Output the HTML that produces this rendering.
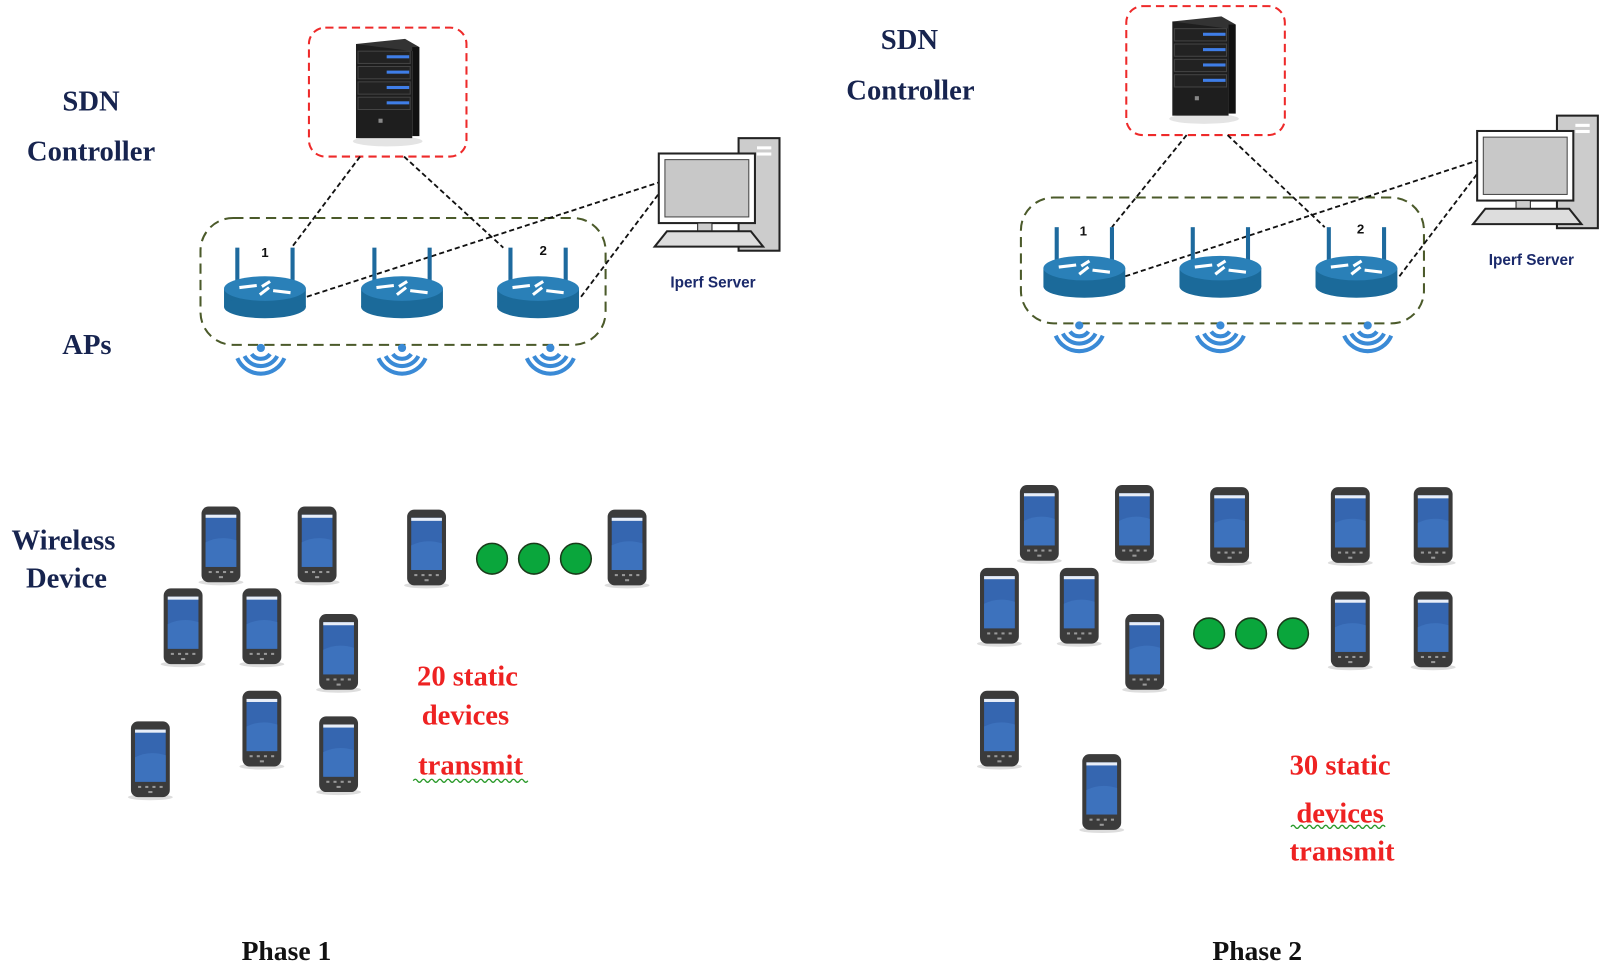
<!DOCTYPE html>
<html><head><meta charset="utf-8"><style>
html,body{margin:0;padding:0;background:#fff;width:1604px;height:966px;overflow:hidden}
svg{display:block}
.t{font-family:"Liberation Serif",serif;font-weight:bold;fill:#17244f;font-size:28px;text-anchor:middle}
.r{font-family:"Liberation Serif",serif;font-weight:bold;fill:#ee2222;font-size:28px;text-anchor:middle}
.p{font-family:"Liberation Serif",serif;font-weight:bold;fill:#111;font-size:27px;text-anchor:middle}
.s{font-family:"Liberation Sans",sans-serif;font-weight:bold;fill:#1b2a6b;font-size:15px;text-anchor:middle}
.n{font-family:"Liberation Sans",sans-serif;font-weight:bold;fill:#111;font-size:13px;text-anchor:middle}
</style></head><body>
<svg width="1604" height="966" viewBox="0 0 1568 944" preserveAspectRatio="none" xmlns="http://www.w3.org/2000/svg">
<defs>
<g id="ph">
<ellipse cx="19" cy="74" rx="22" ry="3" fill="#ddd"/>
<rect x="0" y="0" width="38" height="74" rx="7" fill="#3b3b3b"/>
<rect x="4" y="8" width="30" height="51" fill="#3566b0"/>
<rect x="4" y="8" width="30" height="3" fill="#e8eef8"/>
<path d="M4 35 Q18 28 34 33 L34 59 L4 59Z" fill="#3d72bd"/>
<g fill="#999"><rect x="7" y="63" width="3" height="2"/><rect x="14" y="63" width="3" height="2"/><rect x="21" y="63" width="3" height="2"/><rect x="28" y="63" width="3" height="2"/><rect x="17" y="68" width="4" height="2"/></g>
</g>
<g id="srv">
<ellipse cx="31" cy="100" rx="34" ry="5" fill="#e4e4e4"/>
<rect x="0" y="5" width="55" height="92" fill="#1e1e1e"/>
<polygon points="0,5 48,0 62,8 55,12" fill="#333"/>
<rect x="55" y="8" width="7" height="87" fill="#111"/>
<g fill="#222" stroke="#444"><rect x="2" y="12" width="51" height="12"/><rect x="2" y="27" width="51" height="12"/><rect x="2" y="42" width="51" height="12"/><rect x="2" y="57" width="51" height="12"/></g>
<g fill="#3f7ee8"><rect x="30" y="16" width="22" height="3"/><rect x="30" y="31" width="22" height="3"/><rect x="30" y="46" width="22" height="3"/><rect x="30" y="61" width="22" height="3"/></g>
<rect x="22" y="78" width="4" height="4" fill="#888"/>
</g>
<g id="rt">
<rect x="-29" y="-48" width="4" height="38" fill="#1e6a9e"/><rect x="25" y="-48" width="4" height="38" fill="#1e6a9e"/>
<rect x="-40" y="-8" width="80" height="18" fill="#1b6a9a"/>
<ellipse cx="0" cy="10" rx="40" ry="11" fill="#1b6a9a"/>
<ellipse cx="0" cy="-8" rx="40" ry="12" fill="#2a80b8"/>
<g stroke="#fff" stroke-width="3"><line x1="-25" y1="-9" x2="-8" y2="-11"/><line x1="8" y1="-6" x2="25" y2="-4"/><line x1="-5" y1="-2" x2="4" y2="-9"/><line x1="5" y1="-15" x2="-3" y2="-10"/></g>
</g>
<g id="wf" fill="none" stroke="#3a8ad6" stroke-width="4">
<circle cx="0" cy="0" r="4" fill="#3a8ad6" stroke="none"/>
<path d="M-9 6 A11 11 0 0 0 9 6"/><path d="M-16 8 A18 18 0 0 0 16 8"/><path d="M-23 10 A25 25 0 0 0 23 10"/>
</g>
<g id="pc">
<rect x="82" y="0" width="40" height="110" fill="#ccc" stroke="#222" stroke-width="2"/>
<rect x="100" y="8" width="14" height="3" fill="#fff"/><rect x="100" y="14" width="14" height="3" fill="#fff"/>
<rect x="4" y="15" width="94" height="68" fill="#fff" stroke="#222" stroke-width="2"/>
<rect x="10" y="21" width="82" height="56" fill="#c8c8c8" stroke="#444"/>
<rect x="42" y="83" width="14" height="8" fill="#ccc" stroke="#222"/>
<polygon points="12,91 94,91 106,106 0,106" fill="#ddd" stroke="#222" stroke-width="2"/>
</g>
</defs>

<!-- Phase 1 -->
<text class="t" x="89" y="108">SDN</text>
<text class="t" x="89" y="157">Controller</text>
<text class="t" x="85" y="346">APs</text>
<text class="t" x="62" y="537">Wireless</text>
<text class="t" x="65" y="574">Device</text>
<rect x="302" y="27" width="154" height="126" rx="16" fill="none" stroke="#ee2a2a" stroke-width="2" stroke-dasharray="8,5"/>
<use href="#srv" x="348" y="38"/>
<rect x="196" y="213" width="396" height="124" rx="32" fill="none" stroke="#4b5a2a" stroke-width="2" stroke-dasharray="10,6"/>
<g stroke="#111" stroke-width="1.8" stroke-dasharray="5,3" fill="none">
<line x1="352" y1="153" x2="285" y2="242"/><line x1="395" y1="153" x2="492" y2="242"/>
<line x1="300" y1="290" x2="645" y2="178"/><line x1="568" y1="290" x2="645" y2="188"/>
</g>
<use href="#rt" x="259" y="290"/><use href="#rt" x="393" y="290"/><use href="#rt" x="526" y="290"/>
<text class="n" x="259" y="251">1</text><text class="n" x="531" y="249">2</text>
<use href="#wf" x="255" y="340"/><use href="#wf" x="393" y="340"/><use href="#wf" x="538" y="340"/>
<use href="#pc" x="640" y="135"/>
<text class="s" x="697" y="281">Iperf Server</text>
<use href="#ph" x="197" y="495"/><use href="#ph" x="291" y="495"/><use href="#ph" x="398" y="498"/><use href="#ph" x="594" y="498"/>
<use href="#ph" x="160" y="575"/><use href="#ph" x="237" y="575"/><use href="#ph" x="312" y="600"/>
<use href="#ph" x="237" y="675"/><use href="#ph" x="128" y="705"/><use href="#ph" x="312" y="700"/>
<g fill="#0aa63c" stroke="#1a3a1a" stroke-width="1.5"><circle cx="481" cy="546" r="15"/><circle cx="522" cy="546" r="15"/><circle cx="563" cy="546" r="15"/></g>
<text class="r" x="457" y="670">20 static</text>
<text class="r" x="455" y="708">devices</text>
<text class="r" x="460" y="757">transmit</text>
<path d="M404 763 q2 -3 4 0 t4 0 t4 0 t4 0 t4 0 t4 0 t4 0 t4 0 t4 0 t4 0 t4 0 t4 0 t4 0 t4 0 t4 0 t4 0 t4 0 t4 0 t4 0 t4 0 t4 0 t4 0 t4 0 t4 0 t4 0 t4 0 t4 0 t4 0" fill="none" stroke="#2a9a2a" stroke-width="1.3"/>
<text class="p" x="280" y="938">Phase 1</text>

<!-- Phase 2 -->
<text class="t" x="889" y="48">SDN</text>
<text class="t" x="890" y="97">Controller</text>
<rect x="1101" y="6" width="155" height="126" rx="16" fill="none" stroke="#ee2a2a" stroke-width="2" stroke-dasharray="8,5"/>
<use href="#srv" x="1146" y="16"/>
<rect x="998" y="193" width="394" height="123" rx="32" fill="none" stroke="#4b5a2a" stroke-width="2" stroke-dasharray="10,6"/>
<g stroke="#111" stroke-width="1.8" stroke-dasharray="5,3" fill="none">
<line x1="1160" y1="132" x2="1087" y2="222"/><line x1="1200" y1="132" x2="1295" y2="222"/>
<line x1="1100" y1="270" x2="1447" y2="156"/><line x1="1368" y1="270" x2="1447" y2="166"/>
</g>
<use href="#rt" x="1060" y="270"/><use href="#rt" x="1193" y="270"/><use href="#rt" x="1326" y="270"/>
<text class="n" x="1059" y="230">1</text><text class="n" x="1330" y="228">2</text>
<use href="#wf" x="1055" y="318"/><use href="#wf" x="1193" y="318"/><use href="#wf" x="1337" y="318"/>
<use href="#pc" x="1440" y="113"/>
<text class="s" x="1497" y="259">Iperf Server</text>
<use href="#ph" x="997" y="474"/><use href="#ph" x="1090" y="474"/><use href="#ph" x="1183" y="476"/><use href="#ph" x="1301" y="476"/><use href="#ph" x="1382" y="476"/>
<use href="#ph" x="958" y="555"/><use href="#ph" x="1036" y="555"/><use href="#ph" x="1100" y="600"/><use href="#ph" x="1301" y="578"/><use href="#ph" x="1382" y="578"/>
<use href="#ph" x="958" y="675"/><use href="#ph" x="1058" y="737"/>
<g fill="#0aa63c" stroke="#1a3a1a" stroke-width="1.5"><circle cx="1182" cy="619" r="15"/><circle cx="1223" cy="619" r="15"/><circle cx="1264" cy="619" r="15"/></g>
<text class="r" x="1310" y="757">30 static</text>
<text class="r" x="1310" y="804">devices</text>
<text class="r" x="1312" y="841">transmit</text>
<path d="M1262 808 q2 -3 4 0 t4 0 t4 0 t4 0 t4 0 t4 0 t4 0 t4 0 t4 0 t4 0 t4 0 t4 0 t4 0 t4 0 t4 0 t4 0 t4 0 t4 0 t4 0 t4 0 t4 0 t4 0 t4 0" fill="none" stroke="#2a9a2a" stroke-width="1.3"/>
<text class="p" x="1229" y="938">Phase 2</text>
</svg>
</body></html>
